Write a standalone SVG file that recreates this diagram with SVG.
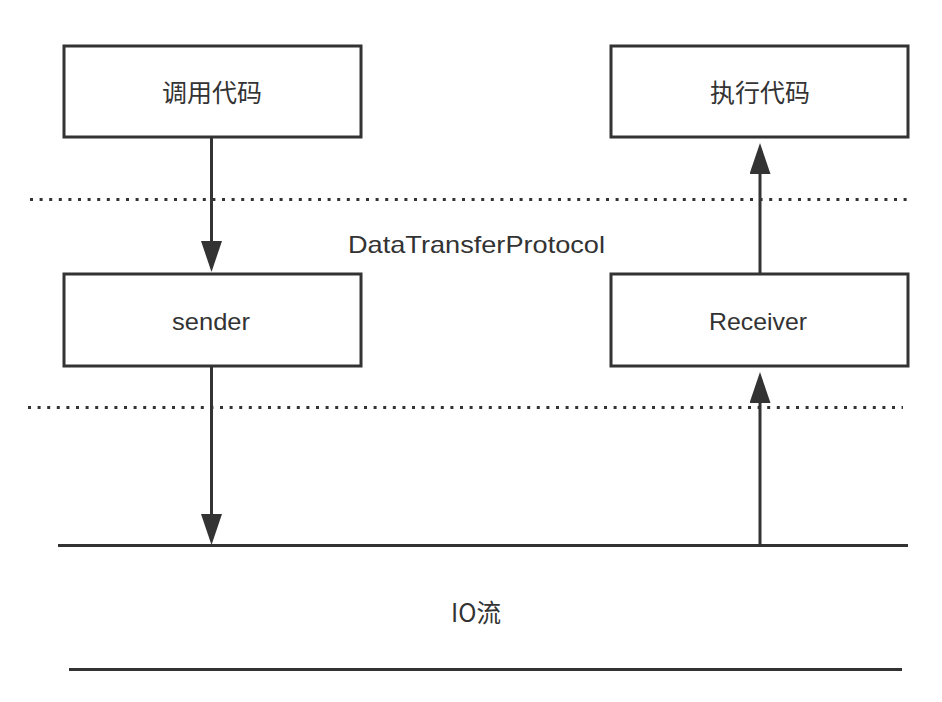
<svg xmlns="http://www.w3.org/2000/svg" width="942" height="702" viewBox="0 0 942 702">
  <style>
    .box { fill: #ffffff; stroke: #333333; stroke-width: 3; }
    .lbl { font-family: "Helvetica", "Liberation Sans", "Noto Sans CJK SC", sans-serif; font-size: 24px; fill: #333333; text-anchor: middle; }
    .cjk { font-family: "Noto Sans CJK SC", "Liberation Sans", sans-serif; font-size: 25px; fill: #333333; text-anchor: middle; }
    .conn { stroke: #333333; stroke-width: 3; fill: none; }
    .dot { stroke: #333333; stroke-width: 3; stroke-dasharray: 3 6.6; fill: none; }
    .rule { stroke: #333333; stroke-width: 3; fill: none; }
  </style>
  <defs>
    <marker id="ah" markerUnits="userSpaceOnUse" markerWidth="31" markerHeight="21" refX="2" refY="10.5" orient="auto" viewBox="0 0 31 21">
      <path d="M0,0 L31,10.5 L0,21 Z" fill="#333333"/>
    </marker>
  </defs>
  <rect width="942" height="702" fill="#ffffff"/>

  <g id="separators">
    <line class="dot" x1="30" y1="199.5" x2="908" y2="199.5"/>
    <line class="dot" x1="28" y1="407.5" x2="903" y2="407.5"/>
    <line class="rule" x1="58" y1="545.5" x2="908" y2="545.5"/>
    <line class="rule" x1="69" y1="669.5" x2="902" y2="669.5"/>
  </g>

  <g id="node-call">
    <rect class="box" x="64" y="46" width="297" height="91"/>
    <text class="cjk" x="212" y="102">调用代码</text>
  </g>
  <g id="node-exec">
    <rect class="box" x="611" y="46" width="297" height="91"/>
    <text class="cjk" x="760" y="102">执行代码</text>
  </g>
  <g id="node-sender">
    <rect class="box" x="64" y="274" width="297" height="92"/>
    <text class="lbl" x="211" y="330" textLength="78" lengthAdjust="spacingAndGlyphs">sender</text>
  </g>
  <g id="node-receiver">
    <rect class="box" x="611" y="274" width="297" height="92"/>
    <text class="lbl" x="758" y="330" textLength="98" lengthAdjust="spacingAndGlyphs">Receiver</text>
  </g>

  <g id="labels">
    <text class="lbl" x="476.5" y="252.5" textLength="257" lengthAdjust="spacingAndGlyphs">DataTransferProtocol</text>
    <text class="cjk" x="476" y="622" textLength="50" lengthAdjust="spacingAndGlyphs">IO流</text>
  </g>

  <g id="connectors">
    <line class="conn" x1="211.5" y1="137" x2="211.5" y2="243" marker-end="url(#ah)"/>
    <line class="conn" x1="211.5" y1="366" x2="211.5" y2="516" marker-end="url(#ah)"/>
    <line class="conn" x1="760" y1="274" x2="760" y2="172" marker-end="url(#ah)"/>
    <line class="conn" x1="760" y1="545" x2="760" y2="401" marker-end="url(#ah)"/>
  </g>
</svg>
